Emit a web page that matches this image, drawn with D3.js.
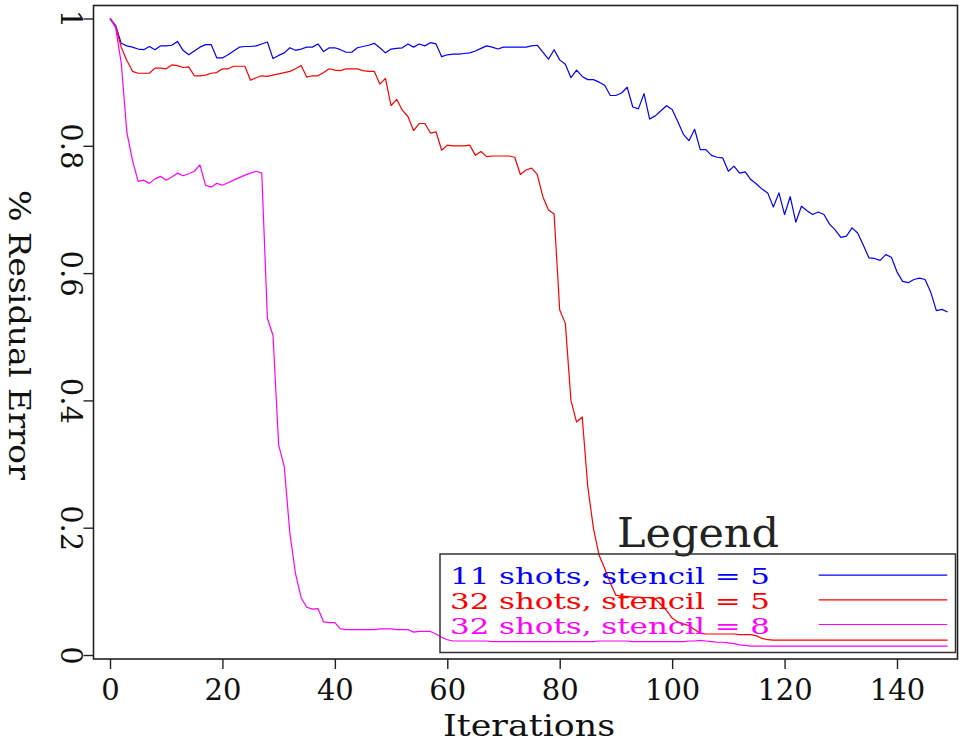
<!DOCTYPE html>
<html><head><meta charset="utf-8">
<script src="https://cdn.jsdelivr.net/npm/d3@7"></script>
<style>html,body{margin:0;padding:0;background:#fff;} svg{display:block;}</style>
</head><body>
<svg id="chart" width="959" height="744"></svg>
<script>
// ---- data ----
const iterations = d3.range(150);
const blue = [
1.000,0.989,0.961,0.957,0.955,0.952,0.951,0.956,0.951,0.957,
0.957,0.958,0.964,0.950,0.943,0.949,0.955,0.959,0.959,0.938,
0.938,0.943,0.949,0.955,0.956,0.956,0.957,0.960,0.963,0.937,
0.942,0.946,0.954,0.950,0.952,0.955,0.955,0.960,0.948,0.954,
0.954,0.951,0.947,0.947,0.954,0.956,0.958,0.961,0.954,0.946,
0.952,0.953,0.954,0.960,0.955,0.960,0.957,0.962,0.960,0.940,
0.943,0.944,0.944,0.945,0.946,0.949,0.953,0.957,0.955,0.952,
0.955,0.955,0.955,0.955,0.955,0.957,0.958,0.947,0.936,0.951,
0.935,0.928,0.907,0.919,0.909,0.904,0.904,0.900,0.895,0.879,
0.879,0.883,0.892,0.861,0.858,0.882,0.842,0.847,0.855,0.863,
0.857,0.838,0.818,0.808,0.826,0.794,0.794,0.785,0.782,0.781,
0.760,0.768,0.757,0.759,0.747,0.740,0.732,0.726,0.704,0.726,
0.692,0.720,0.680,0.705,0.698,0.692,0.696,0.692,0.677,0.668,
0.656,0.658,0.671,0.663,0.644,0.624,0.623,0.620,0.629,0.625,
0.602,0.587,0.585,0.590,0.592,0.590,0.570,0.541,0.543,0.539];
const red = [
1.000,0.987,0.955,0.934,0.917,0.914,0.914,0.914,0.922,0.922,
0.921,0.927,0.926,0.923,0.924,0.910,0.910,0.911,0.914,0.915,
0.921,0.921,0.925,0.925,0.925,0.903,0.907,0.910,0.909,0.911,
0.913,0.915,0.917,0.921,0.926,0.908,0.910,0.910,0.915,0.921,
0.919,0.918,0.921,0.921,0.921,0.918,0.917,0.917,0.897,0.906,
0.863,0.873,0.856,0.846,0.824,0.835,0.835,0.820,0.822,0.793,
0.801,0.800,0.800,0.800,0.801,0.785,0.791,0.783,0.784,0.784,
0.784,0.784,0.782,0.755,0.762,0.765,0.755,0.720,0.699,0.693,
0.542,0.521,0.400,0.366,0.374,0.264,0.199,0.157,0.136,0.113,
0.094,0.092,0.092,0.091,0.091,0.090,0.090,0.088,0.079,0.070,
0.058,0.052,0.049,0.046,0.040,0.034,0.033,0.033,0.033,0.033,
0.033,0.033,0.032,0.032,0.032,0.030,0.026,0.024,0.0235,0.0235,
0.0235,0.0235,0.0235,0.0235,0.0235,0.0235,0.0235,0.0235,0.0235,0.0235,
0.0235,0.0235,0.0235,0.0235,0.0235,0.0235,0.0235,0.0235,0.0235,0.0235,
0.0235,0.0235,0.0235,0.0235,0.0235,0.0235,0.0235,0.0235,0.0235,0.0235];
const magenta = [
1.000,0.986,0.930,0.821,0.777,0.744,0.746,0.741,0.748,0.752,
0.746,0.751,0.757,0.753,0.756,0.760,0.770,0.738,0.735,0.741,
0.738,0.742,0.746,0.750,0.754,0.757,0.760,0.757,0.529,0.502,
0.330,0.296,0.191,0.128,0.090,0.075,0.072,0.073,0.052,0.051,
0.051,0.041,0.040,0.040,0.040,0.040,0.040,0.040,0.041,0.041,
0.041,0.040,0.040,0.040,0.036,0.037,0.037,0.037,0.033,0.028,
0.024,0.022,0.022,0.022,0.022,0.022,0.022,0.022,0.021,0.021,
0.021,0.021,0.021,0.021,0.021,0.021,0.021,0.021,0.021,0.021,
0.021,0.021,0.021,0.021,0.021,0.021,0.021,0.022,0.022,0.022,
0.022,0.022,0.022,0.021,0.021,0.021,0.021,0.021,0.021,0.021,
0.021,0.021,0.021,0.022,0.022,0.023,0.022,0.021,0.020,0.020,
0.019,0.018,0.016,0.015,0.014,0.014,0.014,0.014,0.014,0.014,
0.014,0.014,0.014,0.014,0.014,0.014,0.014,0.014,0.014,0.014,
0.014,0.014,0.014,0.014,0.014,0.014,0.014,0.014,0.014,0.014,
0.014,0.014,0.014,0.014,0.014,0.014,0.014,0.014,0.014,0.014];
const seriesNames = ["11 shots, stencil = 5", "32 shots, stencil = 5", "32 shots, stencil = 8"];
const seriesColors = ["#0000ff", "#ff0000", "#ff00ff"];
const xTicks = [0, 20, 40, 60, 80, 100, 120, 140];
const yTicks = [0, 0.2, 0.4, 0.6, 0.8, 1];
const yTickLabels = ["0", "0.2", "0.4", "0.6", "0.8", "1"];
const xLabel = "Iterations";
const yLabel = "% Residual Error";
const legendTitle = "Legend";

// ---- layout ----
const FONT = "'DejaVu Serif', serif";
const svg = d3.select("#chart");
const frame = {left: 93.5, right: 957.5, top: 5.5, bottom: 659};
const x = d3.scaleLinear().domain([0, 140]).range([110, 897]);
const y = d3.scaleLinear().domain([0, 1]).range([655, 18.5]);

// frame
svg.append("rect")
  .attr("x", frame.left).attr("y", frame.top)
  .attr("width", frame.right - frame.left).attr("height", frame.bottom - frame.top)
  .attr("fill", "none").attr("stroke", "#222").attr("stroke-width", 1.6);

// x axis
const gx = svg.append("g").attr("transform", `translate(0,${frame.bottom})`)
  .call(d3.axisBottom(x).tickValues(xTicks).tickSizeInner(10).tickSizeOuter(0).tickFormat(d3.format("d")));
gx.select(".domain").remove();
gx.selectAll(".tick line").attr("stroke", "#222").attr("stroke-width", 1.4);
gx.selectAll(".tick text").attr("y", 41).attr("dy", null)
  .attr("font-family", FONT).attr("font-size", 29).attr("fill", "#111");

// y axis
const gy = svg.append("g").attr("transform", `translate(${frame.left},0)`)
  .call(d3.axisLeft(y).tickValues(yTicks).tickSizeInner(10).tickSizeOuter(0)
    .tickFormat((d, i) => yTickLabels[i]));
gy.select(".domain").remove();
gy.selectAll(".tick line").attr("stroke", "#222").attr("stroke-width", 1.4);
gy.selectAll(".tick text").attr("x", null).attr("dy", null)
  .attr("transform", "translate(-32.5,0) rotate(90)")
  .attr("text-anchor", "middle")
  .attr("font-family", FONT).attr("font-size", 29).attr("fill", "#111");

// axis titles
svg.append("text").attr("x", 529).attr("y", 736)
  .attr("text-anchor", "middle").attr("font-family", FONT).attr("font-size", 30)
  .attr("fill", "#111").attr("textLength", 172).attr("lengthAdjust", "spacingAndGlyphs")
  .text(xLabel);
svg.append("text").attr("transform", "translate(8.5,335) rotate(90)")
  .attr("text-anchor", "middle").attr("font-family", FONT).attr("font-size", 30)
  .attr("fill", "#111").attr("textLength", 290).attr("lengthAdjust", "spacingAndGlyphs")
  .text(yLabel);

// lines
const series = [blue, red, magenta];
const line = d3.line().x((d, i) => x(iterations[i])).y(d => y(d));
series.forEach((s, k) => {
  svg.append("path").datum(s)
    .attr("d", line).attr("fill", "none")
    .attr("stroke", seriesColors[k]).attr("stroke-width", 1.2)
    .attr("stroke-linejoin", "round");
});

// legend
svg.append("text").attr("x", 698).attr("y", 546.6)
  .attr("text-anchor", "middle").attr("font-family", FONT).attr("font-size", 41)
  .attr("fill", "#222").attr("textLength", 162).attr("lengthAdjust", "spacingAndGlyphs")
  .text(legendTitle);
svg.append("rect").attr("x", 440).attr("y", 554).attr("width", 515.5).attr("height", 98.5)
  .attr("fill", "none").attr("stroke", "#333").attr("stroke-width", 1.5);
const legendBase = [583.8, 609, 634.2];
const legendLineY = [575.2, 599.9, 624.5];
seriesNames.forEach((name, k) => {
  svg.append("text").attr("x", 450).attr("y", legendBase[k])
    .attr("font-family", FONT).attr("font-size", 21.5).attr("fill", seriesColors[k])
    .attr("textLength", 320).attr("lengthAdjust", "spacingAndGlyphs")
    .text(name);
  svg.append("line").attr("x1", 818.7).attr("x2", 947.2)
    .attr("y1", legendLineY[k]).attr("y2", legendLineY[k])
    .attr("stroke", seriesColors[k]).attr("stroke-width", 1.2);
});
</script>
</body></html>
